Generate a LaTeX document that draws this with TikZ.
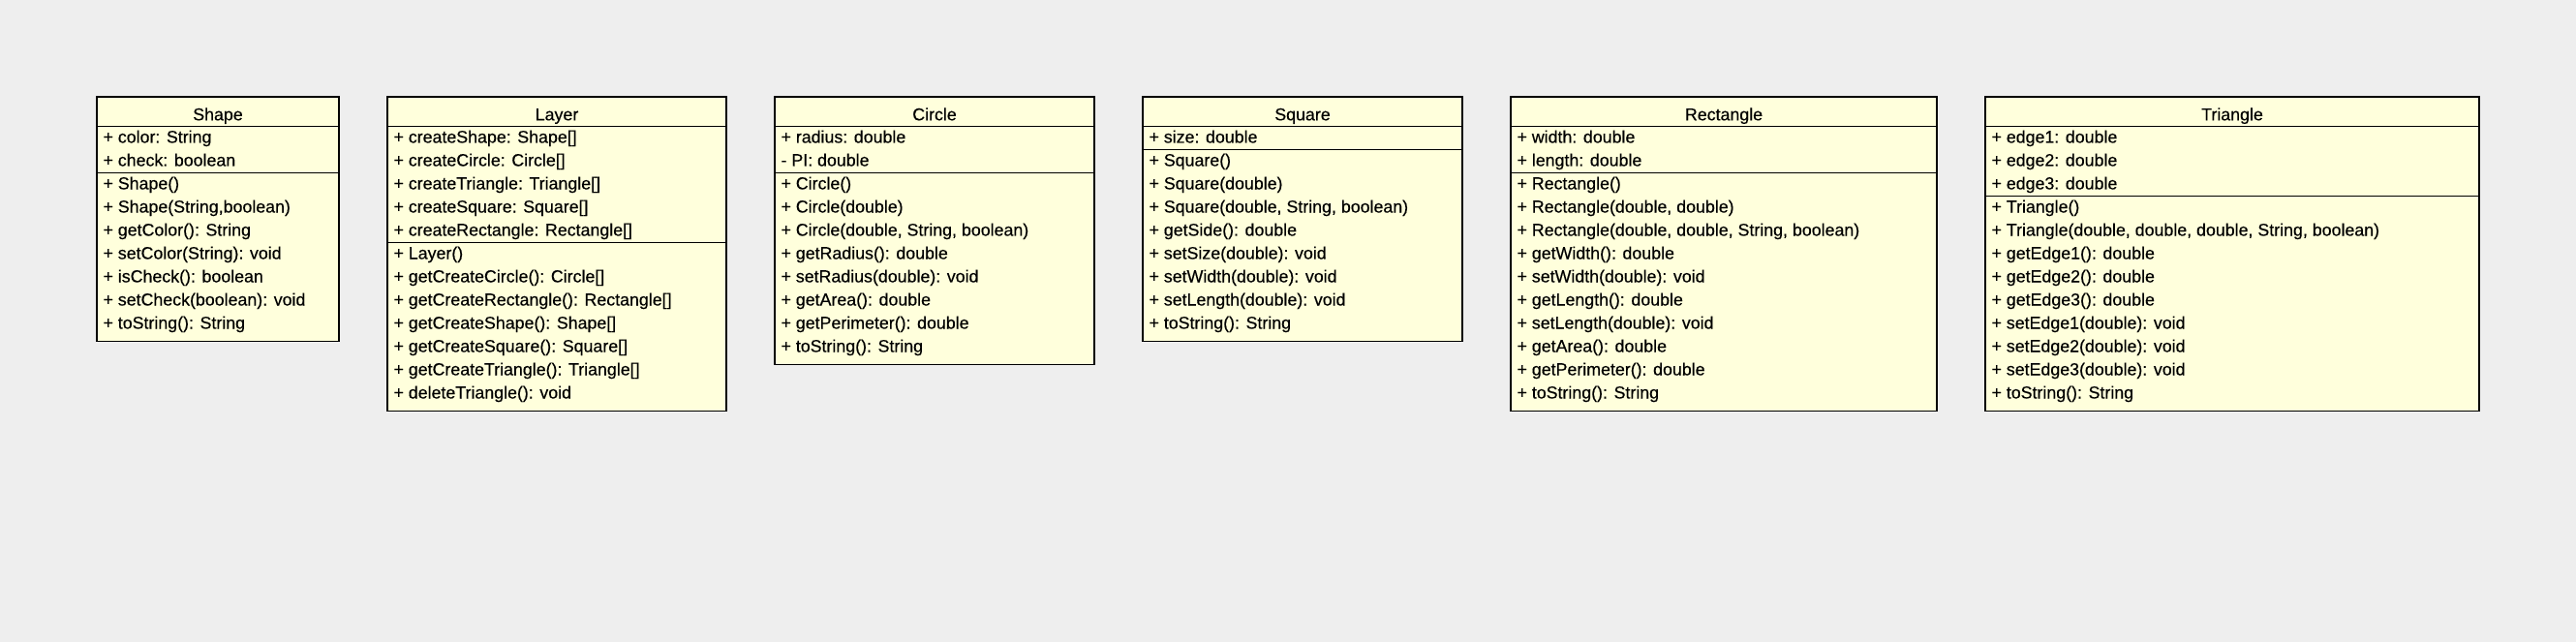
\documentclass[tikz,border=0pt]{standalone}
\usepackage{fontspec}
\setmainfont{Liberation Sans}[FakeBold=0.3]
\usepackage{tikz}
\usetikzlibrary{shapes.multipart, positioning}
\usepackage{xcolor}
\definecolor{canvas}{HTML}{EEEEEE}
\definecolor{classbg}{HTML}{FFFFDC}
% struts that fix the compartment heights
\newcommand{\umlhead}[1]{\rule[-2.825pt]{0pt}{14.6pt}#1}
\newcommand{\umlattrs}[1]{\rule{0pt}{8.025pt}#1\rule[-3.225pt]{0pt}{3.225pt}}
\newcommand{\umlops}[1]{\rule{0pt}{8.025pt}#1\rule[-6.225pt]{0pt}{6.225pt}}

\begin{document}
\begin{tikzpicture}[
  umlclass/.style={rectangle split, rectangle split parts=3,
    rectangle split part align={center,left,left}, draw, line width=0.75pt,
    fill=classbg, align=left, inner xsep=3.25pt, inner ysep=0pt, outer sep=0pt,
    font=\fontsize{8.9pt}{12pt}\selectfont},
  node distance=25pt,
]
  \fill[canvas] (0,0) rectangle (1330pt,-331.5pt);
  \node[umlclass, minimum width=125pt, anchor=north west] (shape) at (50pt,-50pt)
    {\umlhead{Shape}
     \nodepart{second}\umlattrs{+ color: String\\+ check: boolean}
     \nodepart{third}\umlops{+ Shape()\\+ Shape(String,boolean)\\+ getColor(): String\\
       + setColor(String): void\\+ isCheck(): boolean\\+ setCheck(boolean): void\\
       + toString(): String}};
  \node[umlclass, minimum width=175pt, right=of shape.north east, anchor=north west] (layer)
    {\umlhead{Layer}
     \nodepart{second}\umlattrs{+ createShape: Shape[]\\+ createCircle: Circle[]\\
       + createTriangle: Triangle[]\\+ createSquare: Square[]\\+ createRectangle: Rectangle[]}
     \nodepart{third}\umlops{+ Layer()\\+ getCreateCircle(): Circle[]\\
       + getCreateRectangle(): Rectangle[]\\+ getCreateShape(): Shape[]\\
       + getCreateSquare(): Square[]\\+ getCreateTriangle(): Triangle[]\\
       + deleteTriangle(): void}};
  \node[umlclass, minimum width=165pt, right=of layer.north east, anchor=north west] (circle)
    {\umlhead{Circle}
     \nodepart{second}\umlattrs{+ radius: double\\- PI: double}
     \nodepart{third}\umlops{+ Circle()\\+ Circle(double)\\+ Circle(double, String, boolean)\\
       + getRadius(): double\\+ setRadius(double): void\\+ getArea(): double\\
       + getPerimeter(): double\\+ toString(): String}};
  \node[umlclass, minimum width=165pt, right=of circle.north east, anchor=north west] (square)
    {\umlhead{Square}
     \nodepart{second}\umlattrs{+ size: double}
     \nodepart{third}\umlops{+ Square()\\+ Square(double)\\+ Square(double, String, boolean)\\
       + getSide(): double\\+ setSize(double): void\\+ setWidth(double): void\\
       + setLength(double): void\\+ toString(): String}};
  \node[umlclass, minimum width=220pt, right=of square.north east, anchor=north west] (rectangle)
    {\umlhead{Rectangle}
     \nodepart{second}\umlattrs{+ width: double\\+ length: double}
     \nodepart{third}\umlops{+ Rectangle()\\+ Rectangle(double, double)\\
       + Rectangle(double, double, String, boolean)\\+ getWidth(): double\\
       + setWidth(double): void\\+ getLength(): double\\+ setLength(double): void\\
       + getArea(): double\\+ getPerimeter(): double\\+ toString(): String}};
  \node[umlclass, minimum width=255pt, right=of rectangle.north east, anchor=north west] (triangle)
    {\umlhead{Triangle}
     \nodepart{second}\umlattrs{+ edge1: double\\+ edge2: double\\+ edge3: double}
     \nodepart{third}\umlops{+ Triangle()\\+ Triangle(double, double, double, String, boolean)\\
       + getEdge1(): double\\+ getEdge2(): double\\+ getEdge3(): double\\
       + setEdge1(double): void\\+ setEdge2(double): void\\+ setEdge3(double): void\\
       + toString(): String}};
\end{tikzpicture}
\end{document}
